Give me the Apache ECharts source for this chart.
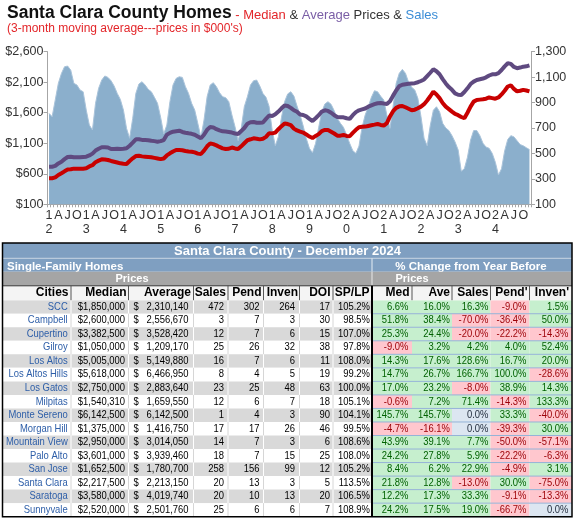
<!DOCTYPE html>
<html><head><meta charset="utf-8">
<script src="https://cdn.jsdelivr.net/npm/echarts@6/dist/echarts.min.js"></script>
<style>html,body{margin:0;padding:0;background:#fff}#c{width:575px;height:519px}</style>
</head><body><div id="c"></div>
<script>
// ---------- chart data ----------
const years = [2012,2013,2014,2015,2016,2017,2018,2019,2020,2021,2022,2023,2024];
const quarterLetters = {3:'A', 6:'J', 9:'O'};
const leftTicks = [100, 600, 1100, 1600, 2100, 2600];
const rightTicks = [100, 300, 500, 700, 900, 1100, 1300];

// 3-month moving average of sales (units), Jan 2012 .. Dec 2024
const sales = [
815,789,920,1051,1129,1182,1187,1155,1051,1038,999,985,
841,723,684,894,1012,1077,1109,1098,1072,1030,972,925,
841,697,619,776,972,1046,1064,1038,1004,985,941,894,
784,653,723,907,1038,1090,1103,1098,1025,972,894,841,
736,627,763,946,1038,1056,1025,978,946,938,907,802,
710,600,697,867,946,1038,1072,1077,1030,972,941,870,
680,560,632,784,907,968,985,951,873,802,716,618,
540,505,579,705,828,889,907,886,836,776,737,705,
645,579,522,501,558,705,802,867,941,993,985,950,
920,800,697,870,1051,1130,1161,1130,1060,1020,999,933,
790,620,560,720,840,867,828,737,700,680,640,590,
527,360,380,470,605,680,680,640,580,550,540,500,
430,330,380,520,610,640,630,600,570,560,545,530];

// median price ($000s)
const median = [
526,526,540,580,608,640,670,673,684,684,684,684,
690,720,740,790,815,837,835,826,810,798,785,771,
765,760,810,853,890,895,885,880,875,870,860,850,
840,850,900,935,965,990,990,985,973,965,962,950,
930,924,980,1050,1099,1085,1065,1040,1017,1005,1010,1030,
1015,1005,1050,1100,1150,1165,1181,1175,1164,1175,1205,1265,
1262,1275,1330,1380,1425,1415,1398,1340,1310,1290,1275,1245,
1210,1185,1220,1250,1300,1318,1318,1290,1260,1225,1225,1236,
1220,1215,1270,1320,1362,1370,1373,1384,1395,1405,1416,1400,
1390,1430,1540,1625,1680,1705,1710,1690,1665,1640,1650,1673,
1700,1740,1800,1870,1946,1900,1840,1760,1700,1660,1619,1580,
1560,1530,1510,1600,1700,1782,1809,1815,1820,1830,1850,1840,
1830,1850,1900,1960,2030,2050,1990,1950,1960,1975,1965,1950];

// average price ($000s)
const average = [
716,716,730,770,798,840,875,880,870,870,870,875,
880,900,930,980,1010,1034,1034,1030,1005,1005,1011,1005,
1010,1017,1060,1110,1165,1165,1155,1153,1150,1140,1135,1126,
1135,1153,1240,1270,1290,1298,1306,1285,1273,1263,1255,1240,
1210,1181,1240,1320,1365,1360,1330,1310,1295,1292,1285,1275,
1260,1252,1300,1350,1420,1445,1448,1437,1437,1440,1500,1555,
1547,1575,1620,1673,1720,1710,1680,1640,1615,1570,1563,1540,
1500,1465,1510,1560,1620,1640,1630,1600,1560,1530,1525,1525,
1510,1500,1560,1610,1640,1655,1670,1699,1720,1740,1755,1759,
1750,1745,1790,1880,1965,2035,2058,2068,2074,2080,2085,2100,
2120,2145,2200,2255,2312,2280,2230,2150,2080,2020,1975,1918,
1895,1891,1940,2000,2070,2110,2136,2148,2160,2180,2210,2230,
2230,2250,2300,2360,2410,2400,2350,2330,2340,2355,2360,2375];

// ---------- table data ----------
const cities = ['SCC','Campbell','Cupertino','Gilroy','Los Altos','Los Altos Hills','Los Gatos','Milpitas','Monte Sereno','Morgan Hill','Mountain View','Palo Alto','San Jose','Santa Clara','Saratoga','Sunnyvale'];
const medianPrice = [1850000,2600000,3382500,1050000,5005000,5618000,2750000,1540310,6142500,1375000,2950000,3601000,1652500,2217500,3580000,2520000];
const averagePrice = [2310140,2556670,3528420,1209170,5149880,6466950,2883640,1659550,6142500,1416750,3014050,3939460,1780700,2213150,4019740,2501760];
const salesCount = [472,3,12,25,16,8,23,12,1,17,14,18,258,20,20,25];
const pendCount = [302,7,7,26,7,4,25,6,4,17,7,7,156,13,10,6];
const invenCount = [264,3,6,32,6,5,48,7,3,26,3,15,99,3,13,6];
const doi = [17,30,15,38,11,19,63,18,90,46,6,25,12,5,20,7];
const spLp = [105.2,98.5,107.0,97.8,108.0,99.2,100.0,105.1,104.1,99.5,108.6,108.0,105.2,113.5,106.5,108.9];
const chgMed = [6.6,51.8,25.3,-9.0,14.3,14.7,17.0,-0.6,145.7,-4.7,43.9,24.2,8.4,21.8,12.2,24.2];
const chgAve = [16.0,38.4,24.4,3.2,17.6,26.7,23.2,7.2,145.7,-16.1,39.1,27.8,6.2,12.8,17.3,17.5];
const chgSales = [16.3,-70.0,-20.0,4.2,128.6,166.7,-8.0,71.4,0.0,0.0,7.7,5.9,22.9,-13.0,33.3,19.0];
const chgPend = [-9.0,-36.4,-22.2,4.0,16.7,100.0,38.9,-14.3,33.3,-39.3,-50.0,-22.2,-4.9,30.0,-9.1,-66.7];
const chgInven = [1.5,50.0,-14.3,52.4,20.0,-28.6,14.3,133.3,-40.0,30.0,-57.1,-6.3,3.1,-75.0,-13.3,0.0];
const headers = ['Cities','Median','Average','Sales','Pend','Inven','DOI','SP/LP','Med','Ave','Sales',"Pend'","Inven'"];

// ---------- build ----------
const months = [];
years.forEach(y => { for (let m = 1; m <= 12; m++) months.push(y + '-' + m); });
const thousands = v => Number(v).toLocaleString('en-US');
const FONT = '"Liberation Sans", Arial, sans-serif';

const G = [];
function rect(x, y, w, h, fill, z) { G.push({type:'rect', silent:true, z:z||1, shape:{x:x, y:y, width:w, height:h}, style:{fill:fill}}); }
function line(x1, y1, x2, y2, stroke, lw, z) { G.push({type:'line', silent:true, z:z||5, shape:{x1:x1, y1:y1, x2:x2, y2:y2}, style:{stroke:stroke, lineWidth:lw||1}}); }
function text(x, y, str, o) {
  G.push({type:'text', silent:true, z:o.z||6, x:x, y:y, scaleX:o.sx||1,
    style:{text:str, fill:o.fill||'#000', font:o.font, align:o.align||'right', verticalAlign:'middle',
           textAlign:o.align||'right', textVerticalAlign:'middle'}});
}

// title
G.push({type:'text', silent:true, z:10, x:7, y:22,
  style:{text:'{t|Santa Clara County Homes}{r| - Median }{k|& }{p|Average }{k|Prices & }{b|Sales}',
    verticalAlign:'bottom', textVerticalAlign:'bottom', align:'left', textAlign:'left',
    rich:{
      t:{fontSize:17.5, fontWeight:'bold', fontFamily:FONT, fill:'#111', lineHeight:18, verticalAlign:'bottom'},
      r:{fontSize:13, fontFamily:FONT, fill:'#e3262a', lineHeight:14, verticalAlign:'bottom'},
      k:{fontSize:13, fontFamily:FONT, fill:'#333', lineHeight:14, verticalAlign:'bottom'},
      p:{fontSize:13, fontFamily:FONT, fill:'#7a5ea6', lineHeight:14, verticalAlign:'bottom'},
      b:{fontSize:13, fontFamily:FONT, fill:'#3b8dd6', lineHeight:14, verticalAlign:'bottom'}
    }}});
text(7, 28.5, "(3-month moving average---prices in $000's)", {font:'12px ' + FONT, fill:'#e3262a', align:'left', z:10});

// table layout
const colEdges = [2.5, 71, 128.5, 193.5, 228, 263.5, 299.5, 333, 372, 412, 452, 490.5, 529.5, 572];
const X0 = 2.5, X1 = 572, MID = 372;
const yTop = 243, yR1 = 258.3, yR2 = 271.8, yR3 = 285.8, yH = 300.2, rowH = 13.53;
const yBot = yH + rowH * cities.length;
const BLUE = '#7f9fc1', GRAY = '#a5a5a5';

rect(X0, yTop, X1 - X0, yR2 - yTop, BLUE, 1);
line(X0, yR1, X1, yR1, '#c9d6e4', 1, 2);
line(MID, yR1, MID, yR2, '#e6edf4', 1, 2);
text(287.5, 251, 'Santa Clara County - December 2024', {font:'bold 13px ' + FONT, fill:'#fff', align:'center', z:3});
text(7, 266.6, 'Single-Family Homes', {font:'bold 11.5px ' + FONT, fill:'#fff', align:'left', z:3});
text(471, 266.6, '% Change from Year Before', {font:'bold 11.5px ' + FONT, fill:'#fff', align:'center', z:3});
rect(X0, yR2, X1 - X0, yR3 - yR2, GRAY, 4);
line(MID, yR2, MID, yR3, '#e8e8e8', 1, 5);
text(132, 279, 'Prices', {font:'bold 11px ' + FONT, fill:'#fff', align:'center', z:6});
text(412, 279, 'Prices', {font:'bold 11px ' + FONT, fill:'#fff', align:'center', z:6});

// header row
rect(X0, yR3, X1 - X0, yH - yR3, '#f4f4f4', 4);
line(X0, yR3, X1, yR3, '#333', 1, 5);
const hdrRight = [68.5, 126.5, 191, 226, 261.5, 298, 330.5, 369.5, 409.5, 450, 488.5, 527.5, 569];
headers.forEach((h, c) => {
  text(hdrRight[c], 293, h, {font:'bold 12px ' + FONT, fill:'#000', align:'right', z:6});
  if (c > 0 && c !== 8) line(colEdges[c], yR3, colEdges[c], yH, '#555', 1, 5);
});

// data rows
const NARROW = '11.5px ' + FONT, SX = 0.82;
const chgCols = [chgMed, chgAve, chgSales, chgPend, chgInven];
const fmtPct = v => v.toFixed(1) + '%';
cities.forEach((city, r) => {
  const top = yH + r * rowH, cy = top + rowH / 2 - 0.3;
  const shaded = r % 2 === 0;
  rect(X0, top, MID - X0, rowH, shaded ? '#d9d9d9' : '#ffffff', 2);
  for (let c = 1; c < 8; c++) line(colEdges[c], top, colEdges[c], top + rowH, shaded ? '#ffffff' : '#d6d6d6', 1, 3);
  text(67.7, cy, city, {font:NARROW, fill:'#2d5ea8', sx:SX});
  text(125, cy, '$' + thousands(medianPrice[r]), {font:NARROW, sx:SX});
  text(133.5, cy, '$', {font:NARROW, sx:SX, align:'left'});
  text(188.5, cy, thousands(averagePrice[r]), {font:NARROW, sx:SX});
  text(224, cy, String(salesCount[r]), {font:NARROW, sx:SX});
  text(259.5, cy, String(pendCount[r]), {font:NARROW, sx:SX});
  text(295, cy, String(invenCount[r]), {font:NARROW, sx:SX});
  text(330, cy, String(doi[r]), {font:NARROW, sx:SX});
  text(370, cy, fmtPct(spLp[r]), {font:NARROW, sx:SX});
  const rightEdge = [408.5, 450, 488.5, 526.5, 568.5];
  chgCols.forEach((arr, k) => {
    const v = arr[r];
    const bg = v > 0 ? '#c6efce' : (v < 0 ? '#ffc7ce' : '#dce6f1');
    const fg = v > 0 ? '#006100' : (v < 0 ? '#9c0006' : '#1f2a3a');
    rect(colEdges[8 + k], top, colEdges[9 + k] - colEdges[8 + k], rowH, bg, 2);
    text(rightEdge[k], cy, fmtPct(v), {font:NARROW, fill:fg, sx:SX});
  });
  line(MID, top + rowH, X1, top + rowH, '#95b3d7', 1, 3);
});
line(MID, yR3, MID, yBot, '#000', 2, 8);
G.push({type:'rect', silent:true, z:9, shape:{x:X0, y:yTop, width:X1 - X0, height:yBot - yTop}, style:{fill:'none', stroke:'#000', lineWidth:1.5}});

const axisColor = '#a6a6a6';
const labelStyle = {color:'#333', fontSize:12.5, fontFamily:FONT};
const option = {
  animation:false,
  backgroundColor:'#fff',
  textStyle:{fontFamily:FONT},
  grid:{left:47.5, right:44, top:51.7, bottom:314.7, containLabel:false, outerBoundsMode:'none'},
  xAxis:{
    type:'category', data:months, boundaryGap:true,
    axisLine:{show:true, lineStyle:{color:axisColor, width:1}},
    axisTick:{show:true, interval:0, length:3, lineStyle:{color:axisColor}},
    splitLine:{show:false},
    axisLabel:Object.assign({}, labelStyle, {
      margin:4, lineHeight:14, fontSize:12.5, hideOverlap:false,
      interval:(idx) => idx % 3 === 0,
      formatter:(val, idx) => {
        const m = idx % 12;
        if (m === 0) { const s = String(years[Math.floor(idx / 12)]).slice(2); return s[0] + '\n' + s[1]; }
        return quarterLetters[m] || '';
      }})
  },
  yAxis:[
    {type:'value', position:'left', min:leftTicks[0], max:leftTicks[leftTicks.length - 1], interval:leftTicks[1] - leftTicks[0],
     axisLine:{show:true, lineStyle:{color:axisColor}}, axisTick:{show:true, length:4, lineStyle:{color:axisColor}},
     splitLine:{show:false},
     axisLabel:Object.assign({}, labelStyle, {margin:4, formatter:v => '$' + thousands(v)})},
    {type:'value', position:'right', min:rightTicks[0], max:rightTicks[rightTicks.length - 1], interval:rightTicks[1] - rightTicks[0],
     axisLine:{show:true, lineStyle:{color:axisColor}}, axisTick:{show:true, length:4, lineStyle:{color:axisColor}},
     splitLine:{show:false},
     axisLabel:Object.assign({}, labelStyle, {margin:4, formatter:v => thousands(v)})}
  ],
  series:[
    {name:'Sales', type:'line', yAxisIndex:1, data:sales, symbol:'none', showSymbol:false, z:1,
     lineStyle:{color:'#a9c3da', width:1}, areaStyle:{color:'#8bafcc', opacity:1}},
    {name:'Median', type:'line', yAxisIndex:0, data:median, symbol:'none', showSymbol:false, z:3,
     lineStyle:{color:'#c80000', width:4}},
    {name:'Average', type:'line', yAxisIndex:0, data:average, symbol:'none', showSymbol:false, z:3,
     lineStyle:{color:'#5f4a80', width:4}}
  ],
  graphic:{elements:G}
};
const chart = echarts.init(document.getElementById('c'), null, {renderer:'canvas', width:575, height:519});
chart.setOption(option);
</script></body></html>
